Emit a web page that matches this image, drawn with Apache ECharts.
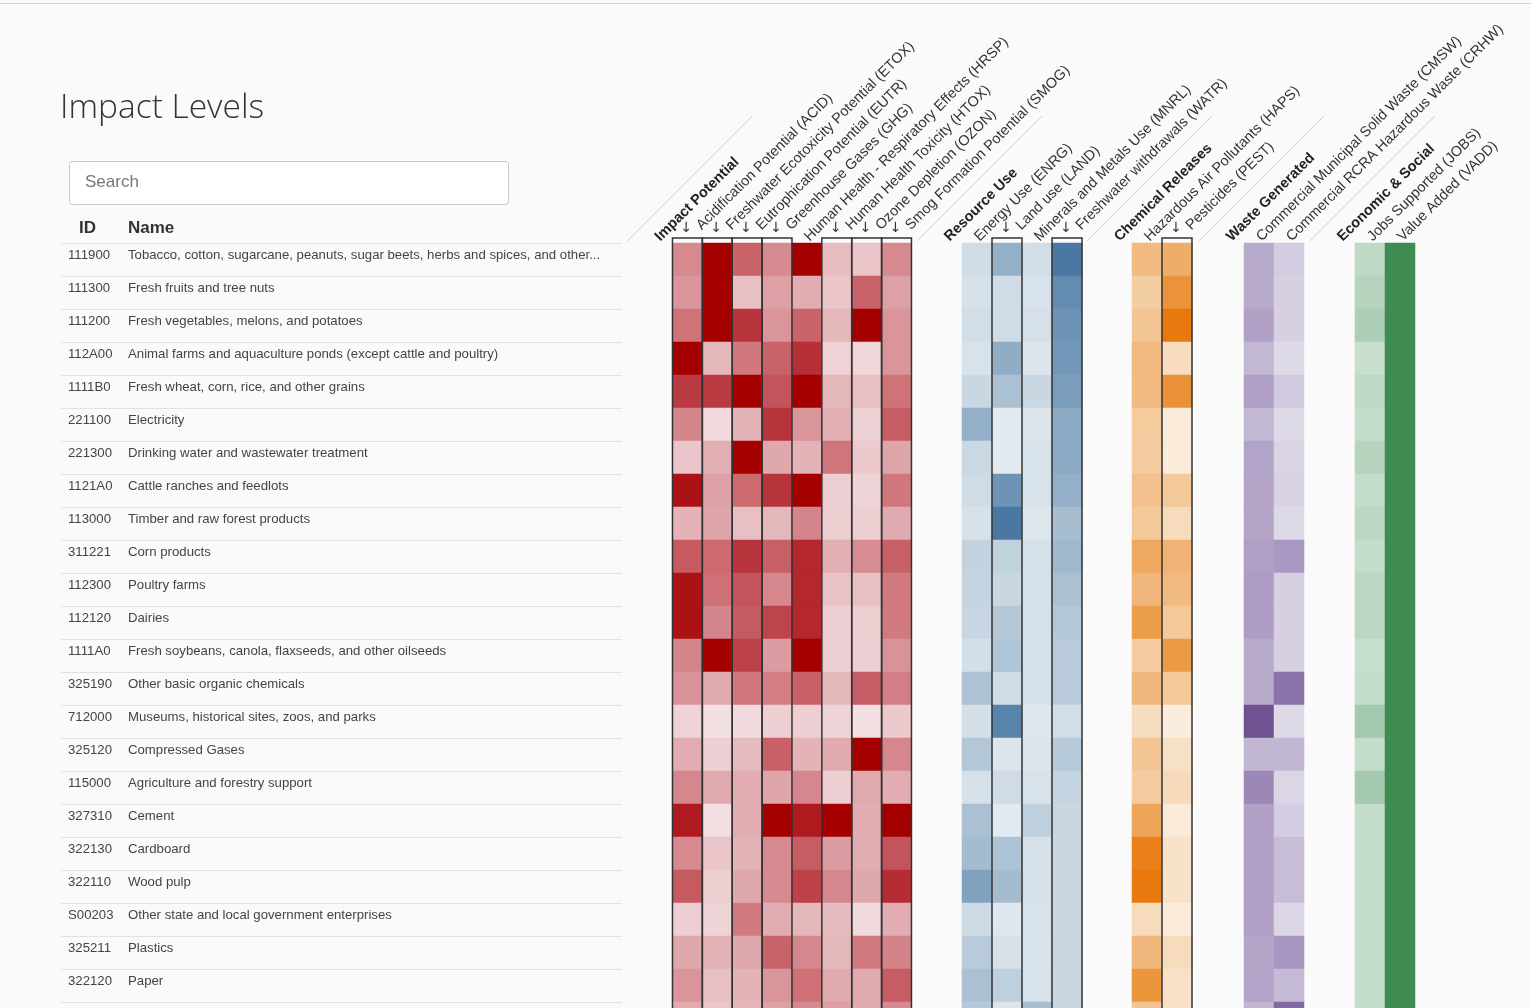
<!DOCTYPE html>
<html><head><meta charset="utf-8">
<script src="https://cdn.jsdelivr.net/npm/echarts@6/dist/echarts.min.js"></script>
<style>html,body{margin:0;padding:0;background:#fafafa}#c{width:1531px;height:1008px}</style>
</head><body><div id="c"></div>
<script>
// ---------- DATA ----------
const ids = ['111900','111300','111200','112A00','1111B0','221100','221300','1121A0','113000','311221','112300','112120','1111A0','325190','712000','325120','115000','327310','322130','322110','S00203','325211','322120',''];
const names = [
  'Tobacco, cotton, sugarcane, peanuts, sugar beets, herbs and spices, and other...',
  'Fresh fruits and tree nuts',
  'Fresh vegetables, melons, and potatoes',
  'Animal farms and aquaculture ponds (except cattle and poultry)',
  'Fresh wheat, corn, rice, and other grains',
  'Electricity',
  'Drinking water and wastewater treatment',
  'Cattle ranches and feedlots',
  'Timber and raw forest products',
  'Corn products',
  'Poultry farms',
  'Dairies',
  'Fresh soybeans, canola, flaxseeds, and other oilseeds',
  'Other basic organic chemicals',
  'Museums, historical sites, zoos, and parks',
  'Compressed Gases',
  'Agriculture and forestry support',
  'Cement',
  'Cardboard',
  'Wood pulp',
  'Other state and local government enterprises',
  'Plastics',
  'Paper',
  ''
];
const groupNames = ['Impact Potential','Resource Use','Chemical Releases','Waste Generated','Economic & Social'];
const impactLabels = ['Acidification Potential (ACID)','Freshwater Ecotoxicity Potential (ETOX)','Eutrophication Potential (EUTR)','Greenhouse Gases (GHG)','Human Health - Respiratory Effects (HRSP)','Human Health Toxicity (HTOX)','Ozone Depletion (OZON)','Smog Formation Potential (SMOG)'];
const resourceLabels = ['Energy Use (ENRG)','Land use (LAND)','Minerals and Metals Use (MNRL)','Freshwater withdrawals (WATR)'];
const chemicalLabels = ['Hazardous Air Pollutants (HAPS)','Pesticides (PEST)'];
const wasteLabels = ['Commercial Municipal Solid Waste (CMSW)','Commercial RCRA Hazardous Waste (CRHW)'];
const econLabels = ['Jobs Supported (JOBS)','Value Added (VADD)'];
// columns marked with the sort arrow / outline
const flagged = ['ACID','ETOX','EUTR','GHG','HTOX','OZON','SMOG','LAND','WATR','PEST'];

// relative levels (0-10) read from the cell shades, one array per indicator
const ACID = [5,4.5,6,10,7.8,5.2,2,9.3,3,6.8,9.3,9.3,5.2,4.6,1.1,3.3,5.1,9,5,6.8,1.4,3.6,4.5,3.5];
const ETOX = [10,10,10,2.8,7.8,0.7,3.2,4,3.8,6.3,6.1,5.2,10,3.5,0.3,1.4,3.5,0.4,2,1.5,1.1,3,2.3,2];
const EUTR = [6.5,2.3,8,5.8,10,3,10,6.3,2.3,8,7,6.8,7.6,5.8,0.7,2.6,3.3,3.3,3,3.6,5.7,3.6,3,2.8];
const GHG  = [5,4,4.5,6.5,7,8,3.6,8,2.8,6.6,5.1,7.5,4.2,5.5,1.4,6.6,3.7,10,5,5,3.3,6.5,4.5,4];
const HRSP = [10,3.3,6.5,8.2,10,4.5,3,10,5.2,8.5,8.5,8.5,10,6.6,1.4,3,5.1,9,6.7,7.6,2.8,5.1,6.1,5];
const HTOX = [2.5,2,2.8,1.2,2.8,3.2,5.9,1.4,1.5,3.2,2.2,1.4,1.4,2.8,1.1,3.5,1.4,10,4.2,5.1,2.6,2.8,3.5,4];
const OZON = [2,6.5,10,1,2.3,1.3,1.8,1.1,1.5,4.9,2.3,1.5,1.4,6.7,0.3,10,3.5,3.3,3.3,3.6,0.7,5.7,3.5,3.5];
const SMOG = [5,4,4.5,4.5,6,6.7,3.8,5.8,3.4,6.6,5.7,5.7,4.6,5.5,1.8,5.1,3.3,10,7,8.3,3.3,5.3,6.7,5];
const ENRG = [2,1.5,1.8,1.3,2.5,6,2.4,2,1.4,2.9,2.8,2.6,1.7,4.4,1.6,4,1.5,4.5,5,7,2.1,3.6,4.5,3.8];
const LAND = [6,2,2,6.2,4.5,0.5,0.5,8,10,3,2.5,4,4.2,2,9.2,1,2,0.5,4.4,5,0.7,1.4,3.2,0.8];
const MNRL = [1.7,1.3,1.5,1,2.5,1,1.3,1.3,0.8,1.5,1.5,1.5,1.5,1.5,0.7,1,1.3,3.2,1.5,1.5,1.3,1.2,1.3,4.8];
const WATR = [10,8.5,8,7.7,7.3,6.4,6.4,6,4.8,5.3,4.5,4,3.6,3.6,1.8,3.7,2.8,2.5,2.5,2.5,2.5,2.5,2.5,2.5];
const HAPS = [5.6,3.8,4.6,5.7,5.6,4.1,4,5,4.3,7,6,7.8,4,5.8,2.2,4.6,4,7.2,9.6,10,2.4,5.9,8.3,4.6];
const PEST = [6.6,8.4,10,2.3,8.5,0.5,0.5,4.3,2.4,6.2,5.6,4.3,8,4.3,0.3,1.8,2.5,0.6,1.6,1.6,0.5,2.4,1.7,1.7];
const CMSW = [4.5,4.5,5.2,3.4,5.3,3.4,5,4.9,4.9,5.3,5.5,5.5,4.5,4.5,10,3.5,6.8,5.2,5.2,5.2,5.2,4.8,5,3.6];
const CRHW = [1.9,1.4,1.4,0.5,2,0.6,1.1,1.2,0.6,5.8,1.5,1.5,1.5,8,0.6,3.5,1,1.8,3,3,1,6,3.2,8.6];
const JOBS = [1.2,1.8,2.4,0.5,1.2,0.7,1.8,0.8,1.3,0.8,1.4,1.4,0.6,0.7,3,0.8,3,0.8,0.8,0.8,0.8,0.8,0.8,0.8];
const VADD = [10,10,10,10,10,10,10,10,10,10,10,10,10,10,10,10,10,10,10,10,10,10,10,10];

// ---------- BUILD ----------
const groups = [
  {labels: impactLabels, codes:['ACID','ETOX','EUTR','GHG','HRSP','HTOX','OZON','SMOG'], cols:[ACID,ETOX,EUTR,GHG,HRSP,HTOX,OZON,SMOG],
   colors:['#f5e5e7','#eac6ca','#dca0a5','#cf7379','#b8343c','#a50000'], left:642.6, slot:29.875},
  {labels: resourceLabels, codes:['ENRG','LAND','MNRL','WATR'], cols:[ENRG,LAND,MNRL,WATR],
   colors:['#e8edf2','#cfdce6','#b3c7d7','#94b0c8','#6d93b6','#4a78a3'], left:932, slot:30},
  {labels: chemicalLabels, codes:['HAPS','PEST'], cols:[HAPS,PEST],
   colors:['#fbefe2','#f7dfc3','#f4cc9f','#f0b57a','#eb9a45','#e8790e'], left:1102, slot:30},
  {labels: wasteLabels, codes:['CMSW','CRHW'], cols:[CMSW,CRHW],
   colors:['#e3dfea','#d2cadf','#bdb0cf','#a796c0','#8a73a8','#6e5291'], left:1214, slot:30},
  {labels: econLabels, codes:['JOBS','VADD'], cols:[JOBS,VADD],
   colors:['#cfe3d5','#3f8c52'], left:1325, slot:30}
];
const TOP = 243, ROWH = 33;
const H = ROWH * ids.length;
const FONT = '"Liberation Sans", Arial, Helvetica, sans-serif';

const grid = [], xAxis = [], yAxis = [], series = [], visualMap = [];
groups.forEach((g, gi) => {
  const n = g.cols.length;
  grid.push({left: g.left, top: TOP, width: g.slot * (n + 1), height: H, outerBoundsMode: 'none', containLabel: false});
  const xdata = [{value: groupNames[gi], textStyle: {fontWeight: 'bold', color: '#222'}}].concat(g.labels.map(l => ({value: l})));
  const flags = [false].concat(g.codes.map(c => flagged.indexOf(c) >= 0));
  xAxis.push({
    type: 'category', gridIndex: gi, position: 'top', data: xdata,
    axisLine: {show: false}, axisTick: {show: false}, splitLine: {show: false},
    axisLabel: {
      interval: 0, rotate: -45, margin: 4, fontSize: 14.5, color: '#333', fontFamily: FONT,
      hideOverlap: false,
      formatter: (v, i) => (flags[i] ? '    ' : '') + v
    }
  });
  yAxis.push({type: 'category', gridIndex: gi, inverse: true, data: ids, show: false});
  const data = [];
  g.cols.forEach((arr, ci) => arr.forEach((v, ri) => data.push([ci + 1, ri, v])));
  series.push({
    type: 'heatmap', xAxisIndex: gi, yAxisIndex: gi, data: data,
    itemStyle: {borderWidth: 0}, emphasis: {disabled: true}, silent: true, z: 2
  });
  visualMap.push({
    type: 'continuous', show: false, seriesIndex: series.length - 1, dimension: 2,
    min: 0, max: 10, inRange: {color: g.colors}
  });
  const deco = [[0, 0, 0]];
  g.codes.forEach((c, ci) => { if (flagged.indexOf(c) >= 0) deco.push([ci + 1, 0, 1]); });
  series.push({
    type: 'custom', xAxisIndex: gi, yAxisIndex: gi, data: deco, silent: true, z: 5, clip: false,
    renderItem: function (params, api) {
      const slot = api.value(0), kind = api.value(2);
      const c = api.coord([slot, 0]);
      const sz = api.size([1, 1]);
      const cs = params.coordSys;
      if (kind === 1) {
        const l = c[0] - sz[0] / 2;
        return {type: 'group', children: [
          {type: 'rect', shape: {x: l, y: cs.y - 5, width: sz[0], height: cs.height + 5},
           style: {fill: 'none', stroke: '#333', lineWidth: 1.5}},
          {type: 'text', style: {text: '\u2193', x: c[0] - 1, y: cs.y - 15, align: 'center', verticalAlign: 'middle',
           fontSize: 14, fontFamily: 'DejaVu Sans', fill: '#333'}}
        ]};
      }
      const x0 = c[0] - 30;
      return {type: 'line', shape: {x1: x0, y1: cs.y - 2, x2: x0 + 125, y2: cs.y - 127},
              style: {stroke: '#cfcfcf', lineWidth: 1}};
    }
  });
});

// table grid with the ID / Name rows
const tg = grid.length;
grid.push({left: 61, top: TOP, width: 561, height: H, outerBoundsMode: 'none', containLabel: false});
xAxis.push({type: 'value', gridIndex: tg, show: false, min: 0, max: 1});
yAxis.push({
  type: 'category', gridIndex: tg, inverse: true, data: ids,
  axisLine: {show: false}, axisTick: {show: false},
  splitLine: {show: true, interval: 0, lineStyle: {color: '#e2e2e2', width: 1}},
  axisLabel: {
    inside: true, margin: 7, interval: 0, padding: [0, 0, 8, 0],
    formatter: (v, i) => '{id|' + ids[i] + '}{nm|' + names[i] + '}',
    rich: {
      id: {width: 60, fontSize: 13.2, color: '#444', fontFamily: FONT},
      nm: {fontSize: 13.2, color: '#444', fontFamily: FONT}
    }
  }
});

const chart = echarts.init(document.getElementById('c'), null, {renderer: 'canvas'});
chart.setOption({
  backgroundColor: '#fafafa',
  animation: false,
  grid: grid, xAxis: xAxis, yAxis: yAxis, series: series, visualMap: visualMap,
  graphic: [
    {type: 'line', shape: {x1: 0, y1: 3.5, x2: 1531, y2: 3.5}, style: {stroke: '#d4d4d4', lineWidth: 1}},
    {type: 'text', x: 60, y: 108, style: {text: 'Impact Levels', fontSize: 33.5, fontWeight: 300, fontFamily: '"Open Sans"', fill: '#333', verticalAlign: 'middle'}},
    {type: 'rect', shape: {x: 69.5, y: 161.5, width: 439, height: 43, r: 3}, style: {fill: '#fff', stroke: '#c8c8c8', lineWidth: 1}},
    {type: 'text', x: 85, y: 182, style: {text: 'Search', fontSize: 17, fontFamily: FONT, fill: '#777', verticalAlign: 'middle'}},
    {type: 'text', x: 79, y: 228, style: {text: 'ID', fontSize: 17, fontWeight: 'bold', fontFamily: FONT, fill: '#333', verticalAlign: 'middle'}},
    {type: 'text', x: 128, y: 228, style: {text: 'Name', fontSize: 17, fontWeight: 'bold', fontFamily: FONT, fill: '#333', verticalAlign: 'middle'}}
  ]
});
</script>
</body></html>
